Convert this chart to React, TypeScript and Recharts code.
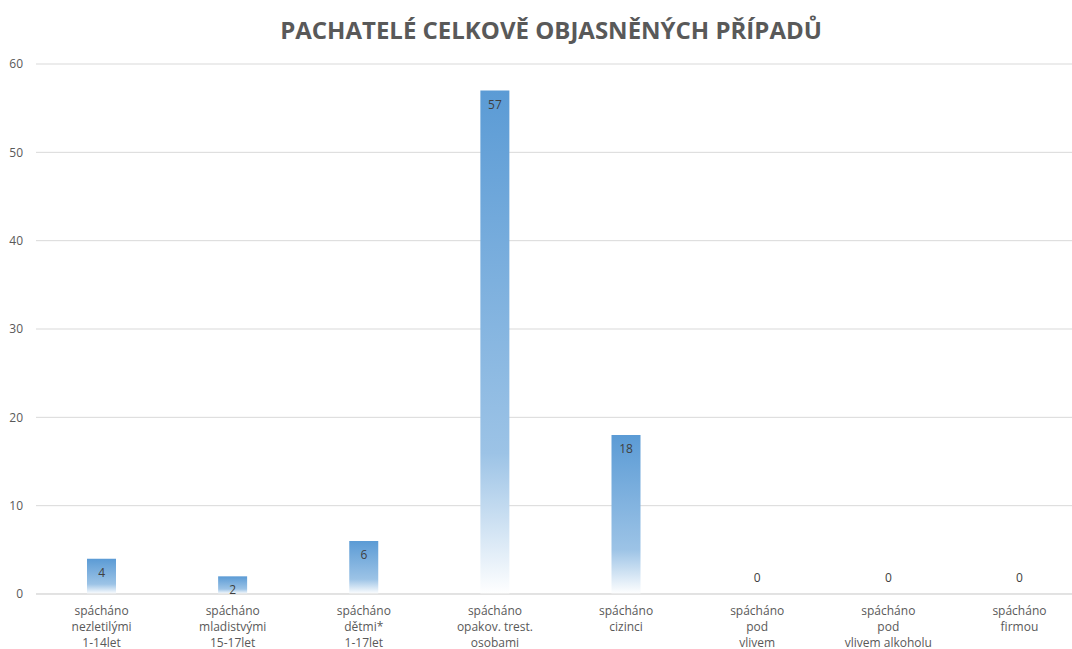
import { ComposedChart, Bar, Line, XAxis, YAxis, CartesianGrid, LabelList } from 'recharts'

const categories = [
  'spácháno\nnezletilými\n1-14let',
  'spácháno\nmladistvými\n15-17let',
  'spácháno\ndětmi*\n1-17let',
  'spácháno\nopakov. trest.\nosobami',
  'spácháno\ncizinci',
  'spácháno\npod\nvlivem',
  'spácháno\npod\nvlivem alkoholu',
  'spácháno\nfirmou',
]
const values = [4, 2, 6, 57, 18, 0, 0, 0]
const yTicks = [0, 10, 20, 30, 40, 50, 60]

const data = categories.map((name, i) => ({ name, value: values[i] }))

const FONT = '"Open Sans", "Noto Sans", sans-serif'

function CategoryTick(props: any) {
  const { x, y, payload } = props
  const lines = String(payload.value).split('\n')
  return (
    <text x={x} y={y} textAnchor="middle" fill="#595959" fontSize={12} fontFamily={FONT}>
      {lines.map((l, i) => (
        <tspan key={i} x={x} dy={i === 0 ? 12.5 : 16}>{l}</tspan>
      ))}
    </text>
  )
}

// labels sit inside the top of the bar, zero values just above the axis
function ValueLabel(props: any) {
  const { x, y, value } = props
  const cy = value === 0 ? y - 16 : y + 14
  return (
    <text x={x} y={cy} dy={4} textAnchor="middle" fill="#404040" fontSize={12} fontFamily={FONT}>
      {value}
    </text>
  )
}

export default function App() {
  return (
    <div style={{ position: 'absolute', left: 0, top: 0, width: 1072, height: 649, overflow: 'hidden', background: '#fff' }}>
      <div
        style={{
          position: 'absolute', left: 0, top: 13, width: 1102, textAlign: 'center',
          fontFamily: FONT, fontWeight: 700, fontSize: 24, color: '#595959',
        }}
      >
        PACHATELÉ CELKOVĚ OBJASNĚNÝCH PŘÍPADŮ
      </div>
      <ComposedChart width={1085} height={649} data={data} margin={{ top: 64, right: 0, bottom: 0, left: 0 }}>
        <defs>
          <linearGradient id="barFill" x1="0" y1="0" x2="0" y2="1">
            <stop offset="0%" stopColor="#5b9bd5" />
            <stop offset="72%" stopColor="#9cc3e6" />
            <stop offset="100%" stopColor="#ffffff" />
          </linearGradient>
        </defs>
        <CartesianGrid vertical={false} stroke="#d9d9d9" />
        <XAxis
          dataKey="name"
          interval={0}
          height={55}
          tickLine={false}
          axisLine={{ stroke: '#d9d9d9' }}
          tick={<CategoryTick />}
        />
        <YAxis
          width={36}
          domain={[0, 60]}
          ticks={yTicks}
          tickLine={false}
          axisLine={false}
          tickMargin={7}
          tick={{ fill: '#595959', fontSize: 12, fontFamily: FONT }}
        />
        <Bar dataKey="value" fill="url(#barFill)" barSize={29} isAnimationActive={false} />
        <Line dataKey="value" stroke="none" dot={false} activeDot={false} isAnimationActive={false}>
          <LabelList dataKey="value" content={<ValueLabel />} />
        </Line>
      </ComposedChart>
    </div>
  )
}
